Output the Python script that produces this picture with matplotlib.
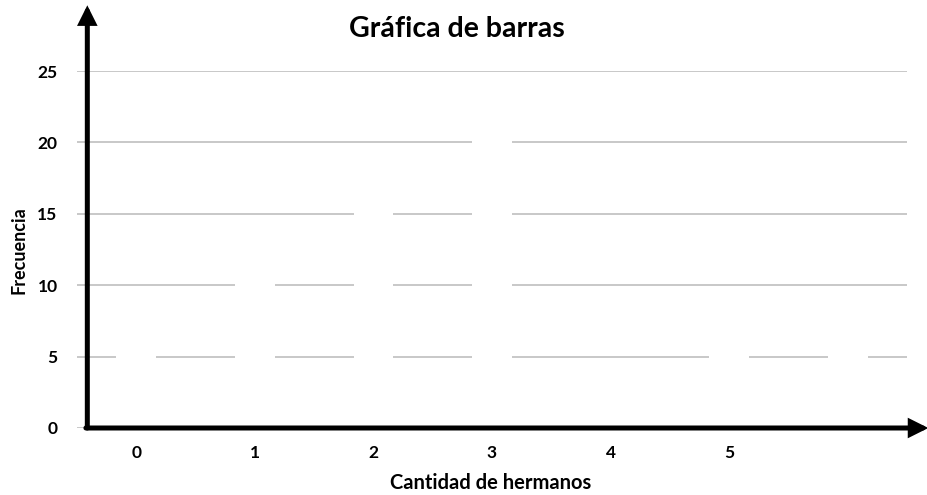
import matplotlib
matplotlib.use("Agg")
import matplotlib.pyplot as plt

# Data
categories = [0, 1, 2, 3, 4, 5, 6]
tick_labels = ["0", "1", "2", "3", "4", "5", ""]
frequencies = [8, 13, 18, 23, 3, 8, 7]
y_ticks = [0, 5, 10, 15, 20, 25]

plt.rcParams['font.family'] = ['Lato', 'DejaVu Sans']

W, H = 927, 495
fig = plt.figure(figsize=(W / 100, H / 100), dpi=100)

# axes in pixel coordinates: x 77..907, y 71 (25) .. 428 (0)
left, right, top, bottom = 77, 907, 71, 428
ax = fig.add_axes([left / W, (H - bottom) / H, (right - left) / W, (bottom - top) / H])
ax.set_xlim(-0.5, 6.5)
ax.set_ylim(0, 25)

ax.set_yticks(y_ticks)
ax.set_yticklabels([str(v) for v in y_ticks], fontsize=12.5, fontweight='bold')
ax.set_xticks(categories)
ax.set_xticklabels(tick_labels, fontsize=12.5, fontweight='bold')
ax.tick_params(axis='y', length=0, pad=14)
ax.tick_params(axis='x', length=0, pad=12)

ax.grid(axis='y', color='#BFBFBF', linewidth=1.2, zorder=0)
ax.set_axisbelow(True)
for s in ax.spines.values():
    s.set_visible(False)

ax.bar(categories, frequencies, width=0.335, color='white', edgecolor='none', zorder=2)

# Thick arrowed axes
x_axis_pos = -0.413
arrow_kw = dict(arrowstyle='-|>,head_length=0.9,head_width=0.45', color='black',
                lw=3.6, shrinkA=0, shrinkB=0, joinstyle='miter')
ax.annotate('', xy=(x_axis_pos, 29.6), xytext=(x_axis_pos, 0),
            xycoords='data', arrowprops=arrow_kw, annotation_clip=False, zorder=5)
ax.annotate('', xy=(6.68, 0), xytext=(x_axis_pos - 0.012, 0),
            xycoords='data', arrowprops=arrow_kw, annotation_clip=False, zorder=5)

fig.text(457 / W, 1 - 29 / H, 'Gráfica de barras', ha='center', va='center',
         fontsize=20.5, fontweight='bold')
fig.text(491 / W, 1 - 483 / H, 'Cantidad de hermanos', ha='center', va='center',
         fontsize=14.5, fontweight='bold')
fig.text(19 / W, 1 - 250 / H, 'Frecuencia', ha='center', va='center',
         fontsize=13, fontweight='bold', rotation=90)

fig.savefig('out.png', dpi=100, facecolor='white')
